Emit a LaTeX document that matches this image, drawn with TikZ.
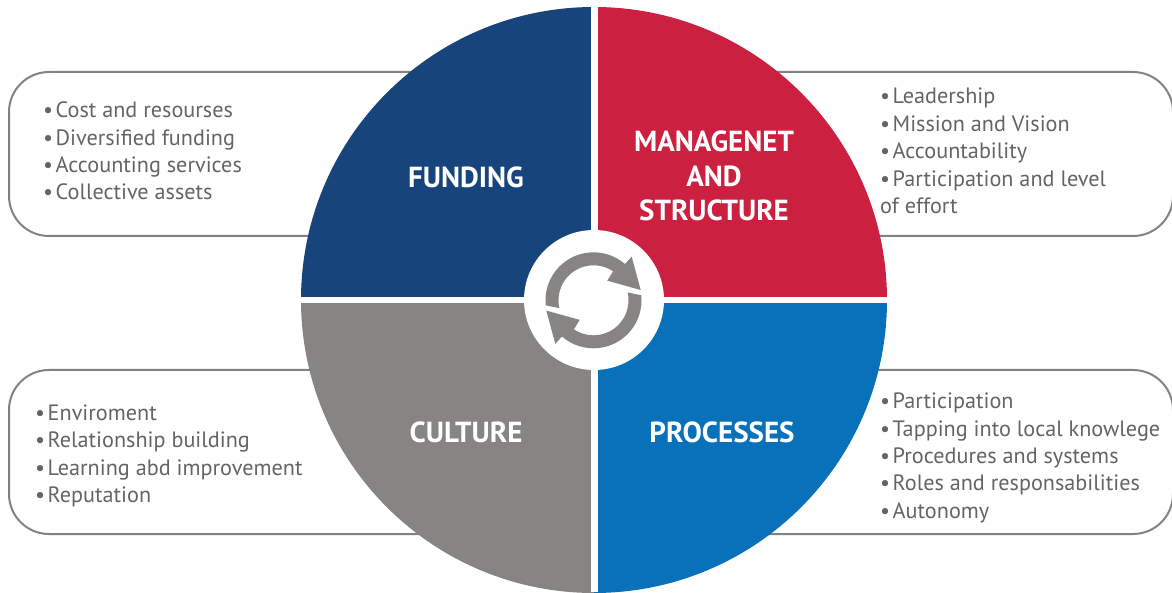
\documentclass[tikz,border=0pt]{standalone}
\usepackage{fontspec}
\setmainfont{PT Sans}
\usepackage{tikz}
\definecolor{fundblue}{HTML}{17457B}
\definecolor{mgmtred}{HTML}{CC2040}
\definecolor{cultgray}{HTML}{868583}
\definecolor{procblue}{HTML}{0871BA}
\definecolor{boxgray}{HTML}{828282}
\definecolor{textgray}{HTML}{636466}
\newcommand{\bul}{•\kern2.5pt}
\tikzset{
  infobox/.style={draw=boxgray, line width=2pt, rounded corners=40pt, minimum width=500pt, minimum height=164pt, inner sep=0pt},
  infotext/.style={anchor=west, align=left, inner sep=0pt, text=textgray, font=\fontsize{22.2}{27.4}\selectfont},
  quadtitle/.style={align=center, inner sep=0pt, text=white, font=\fontsize{29}{34.5}\selectfont\bfseries}
}
\begin{document}
\begin{tikzpicture}[x=1pt, y=1pt]
\useasboundingbox (0,0) rectangle (1172,592);
\coordinate (C) at (594,292);

% Les cadres de texte
\node[infobox] (FB) at (259,438) {};
\node[infobox] (MB) at (923,438) {};
\node[infobox] (CB) at (259,140) {};
\node[infobox] (PB) at (923,140) {};

% Les quatre quadrants
\foreach \a/\c in {90/fundblue, 0/mgmtred, 180/cultgray, 270/procblue}
\fill[\c] (C) -- ++(\a:293) arc[start angle=\a, delta angle=90, radius=293] -- cycle;

% La croix et le disque central
\fill[white] (590.5,0) rectangle (597.5,592);
\fill[white] (290,292-3) rectangle (900,292+3);
\node[circle, fill=white, minimum size=140pt, inner sep=0pt] (D) at (C) {};

% Les deux fleches
\foreach \r in {0,180}
\fill[cultgray, shift={(593.5,291.7)}, rotate=\r]
  (186:48) arc[start angle=186, end angle=49, radius=48]
  -- (38.2,43.6) -- (47.2,10.3) -- (13.8,19.6)
  -- (56:35) arc[start angle=56, end angle=193, radius=35] -- cycle;

% Les titres
\node[quadtitle] (FT) at (466,415) {FUNDING};
\node[quadtitle] (MT) at (714,416) {MANAGENET\\AND\\STRUCTURE};
\node[quadtitle] (CT) at (466,160) {CULTURE};
\node[quadtitle] (PT) at (722,160) {PROCESSES};

% Les listes
\node[infotext] (FL) at (43,441) {\bul Cost and resourses\\\bul Diversified funding\\\bul Accounting services\\\bul Collective assets};
\node[infotext] (ML) at (880,441) {\bul Leadership\\\bul Mission and Vision\\\bul Accountability\\\bul Participation and level\\of effort};
\node[infotext] (CL) at (35,136) {\bul Enviroment\\\bul Relationship building\\\bul Learning abd improvement\\\bul Reputation};
\node[infotext] (PL) at (880,134) {\bul Participation\\\bul Tapping into local knowlege\\\bul Procedures and systems\\\bul Roles and responsabilities\\\bul Autonomy};

\end{tikzpicture}
\end{document}
